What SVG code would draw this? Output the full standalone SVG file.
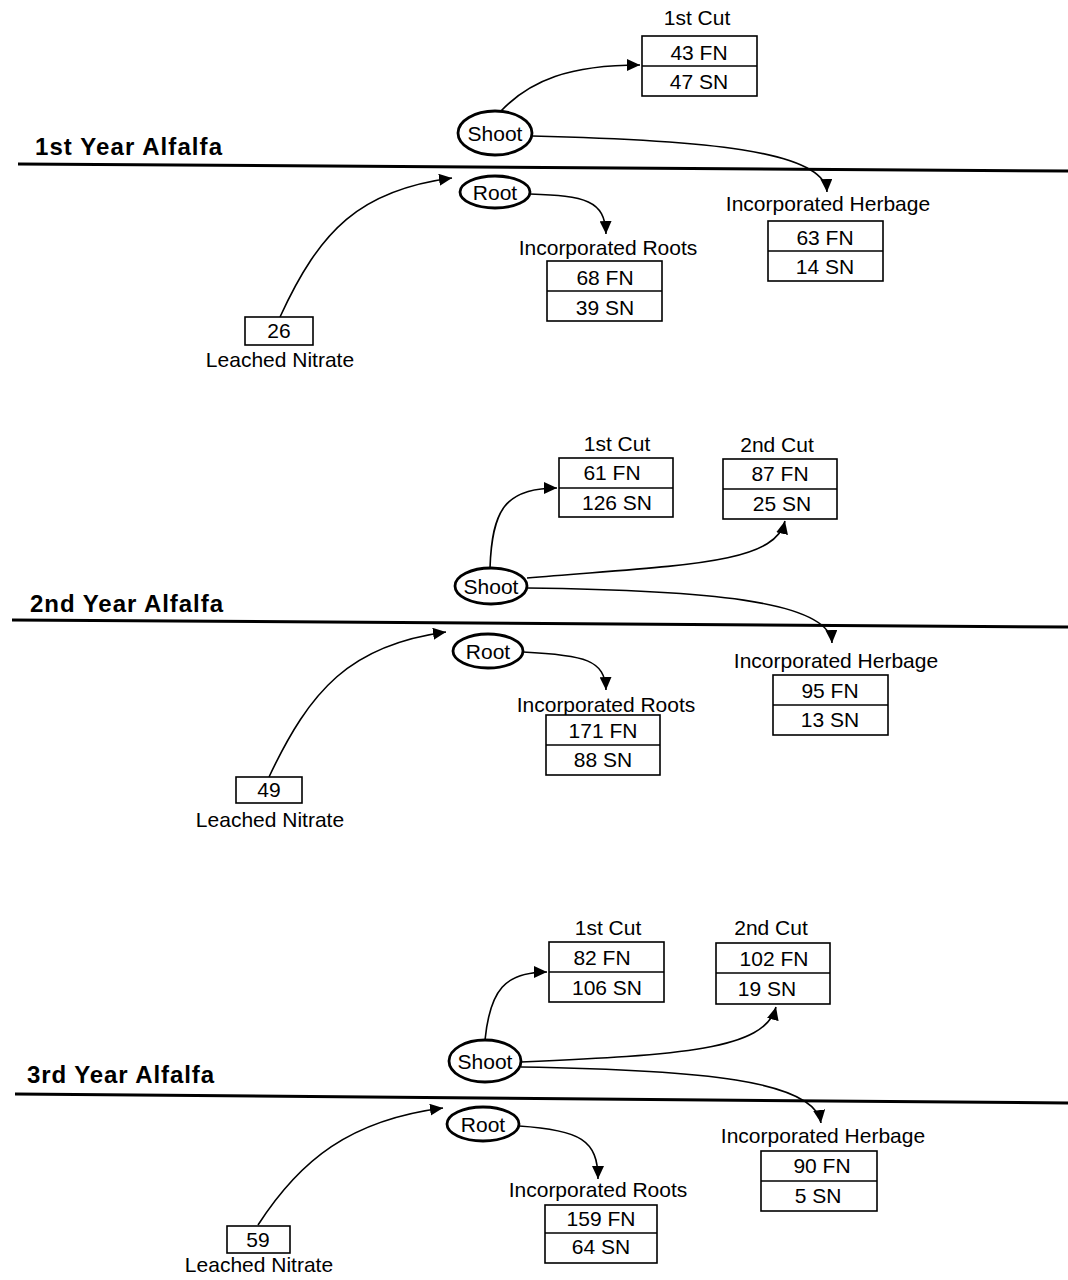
<svg xmlns="http://www.w3.org/2000/svg" width="1068" height="1280" viewBox="0 0 1068 1280">
<style>
text{font-family:"Liberation Sans",Arial,sans-serif;font-size:21px;fill:#000}
.t{font-weight:bold;font-size:24px}
.c{text-anchor:middle}
.box{fill:#fff;stroke:#000;stroke-width:1.6}
.div{stroke:#000;stroke-width:1.6}
.ell{fill:#fff;stroke:#000;stroke-width:2.8}
.gl{stroke:#000;stroke-width:3}
.cn{fill:none;stroke:#000;stroke-width:1.6;marker-end:url(#ah)}
</style>
<defs>
<marker id="ah" viewBox="0 0 13 12" refX="13" refY="6" markerWidth="13" markerHeight="12" markerUnits="userSpaceOnUse" orient="auto"><path d="M0,0 L13,6 L0,12 z" fill="#000"/></marker>
</defs>
<rect width="1068" height="1280" fill="#fff"/>

<g id="ground">
<line class="gl" x1="18" y1="164" x2="1068" y2="171"/>
<line class="gl" x1="12" y1="620" x2="1068" y2="627"/>
<line class="gl" x1="15" y1="1094" x2="1068" y2="1103"/>
</g>

<g id="titles">
<text class="t" x="35" y="155" textLength="187">1st Year Alfalfa</text>
<text class="t" x="30" y="612" textLength="193">2nd Year Alfalfa</text>
<text class="t" x="27" y="1083" textLength="187">3rd Year Alfalfa</text>
</g>

<g id="connectors">
<path class="cn" d="M500,112 C530,80 570,65 640,65"/>
<path class="cn" d="M532,136 C700,140 825,150 827,192"/>
<path class="cn" d="M530,194 C585,196 605,200 606,234"/>
<path class="cn" d="M280,317 C320,230 360,190 452,178"/>

<path class="cn" d="M490,568 C492,510 505,488 557,488"/>
<path class="cn" d="M527,578 C680,565 775,565 785,521"/>
<path class="cn" d="M527,588 C700,590 830,600 832,643"/>
<path class="cn" d="M523,652 C585,655 605,660 606,690"/>
<path class="cn" d="M269,777 C310,690 350,645 446,632"/>

<path class="cn" d="M485,1040 C490,990 505,972 547,972"/>
<path class="cn" d="M521,1062 C680,1055 765,1050 776,1007"/>
<path class="cn" d="M521,1067 C700,1070 815,1080 821,1123"/>
<path class="cn" d="M519,1126 C580,1130 598,1140 598,1179"/>
<path class="cn" d="M258,1225 C300,1160 350,1120 443,1108"/>
</g>

<!-- Panel 1 -->
<g id="p1-shoot"><ellipse class="ell" cx="495" cy="133" rx="37" ry="22"/><text class="c" x="495" y="141">Shoot</text></g>
<g id="p1-root"><ellipse class="ell" cx="495" cy="192" rx="35" ry="16"/><text class="c" x="495" y="200">Root</text></g>
<g id="p1-cut1"><text class="c" x="697" y="25">1st Cut</text><rect class="box" x="642" y="36" width="115" height="60"/><line class="div" x1="642" y1="66" x2="757" y2="66"/><text class="c" x="699" y="60">43 FN</text><text class="c" x="699" y="89">47 SN</text></g>
<g id="p1-herb"><text class="c" x="828" y="211">Incorporated Herbage</text><rect class="box" x="768" y="221" width="115" height="60"/><line class="div" x1="768" y1="251" x2="883" y2="251"/><text class="c" x="825" y="245">63 FN</text><text class="c" x="825" y="274">14 SN</text></g>
<g id="p1-roots"><text class="c" x="608" y="255">Incorporated Roots</text><rect class="box" x="547" y="261" width="115" height="60"/><line class="div" x1="547" y1="291" x2="662" y2="291"/><text class="c" x="605" y="285">68 FN</text><text class="c" x="605" y="315">39 SN</text></g>
<g id="p1-leach"><rect class="box" x="245" y="317" width="68" height="28"/><text class="c" x="279" y="338">26</text><text class="c" x="280" y="367">Leached Nitrate</text></g>

<!-- Panel 2 -->
<g id="p2-shoot"><ellipse class="ell" cx="491" cy="586" rx="36" ry="18"/><text class="c" x="491" y="594">Shoot</text></g>
<g id="p2-root"><ellipse class="ell" cx="488" cy="651" rx="35" ry="17"/><text class="c" x="488" y="659">Root</text></g>
<g id="p2-cut1"><text class="c" x="617" y="451">1st Cut</text><rect class="box" x="559" y="458" width="114" height="59"/><line class="div" x1="559" y1="488" x2="673" y2="488"/><text class="c" x="612" y="480">61 FN</text><text class="c" x="617" y="510">126 SN</text></g>
<g id="p2-cut2"><text class="c" x="777" y="452">2nd Cut</text><rect class="box" x="723" y="459" width="114" height="60"/><line class="div" x1="723" y1="489" x2="837" y2="489"/><text class="c" x="780" y="481">87 FN</text><text class="c" x="782" y="511">25 SN</text></g>
<g id="p2-herb"><text class="c" x="836" y="668">Incorporated Herbage</text><rect class="box" x="773" y="675" width="115" height="60"/><line class="div" x1="773" y1="705" x2="888" y2="705"/><text class="c" x="830" y="698">95 FN</text><text class="c" x="830" y="727">13 SN</text></g>
<g id="p2-roots"><text class="c" x="606" y="712">Incorporated Roots</text><rect class="box" x="546" y="715" width="114" height="60"/><line class="div" x1="546" y1="745" x2="660" y2="745"/><text class="c" x="603" y="738">171 FN</text><text class="c" x="603" y="767">88 SN</text></g>
<g id="p2-leach"><rect class="box" x="236" y="777" width="66" height="26"/><text class="c" x="269" y="797">49</text><text class="c" x="270" y="827">Leached Nitrate</text></g>

<!-- Panel 3 -->
<g id="p3-shoot"><ellipse class="ell" cx="485" cy="1061" rx="36" ry="21"/><text class="c" x="485" y="1069">Shoot</text></g>
<g id="p3-root"><ellipse class="ell" cx="483" cy="1124" rx="36" ry="17"/><text class="c" x="483" y="1132">Root</text></g>
<g id="p3-cut1"><text class="c" x="608" y="935">1st Cut</text><rect class="box" x="549" y="942" width="115" height="60"/><line class="div" x1="549" y1="972" x2="664" y2="972"/><text class="c" x="602" y="965">82 FN</text><text class="c" x="607" y="995">106 SN</text></g>
<g id="p3-cut2"><text class="c" x="771" y="935">2nd Cut</text><rect class="box" x="716" y="943" width="114" height="61"/><line class="div" x1="716" y1="973" x2="830" y2="973"/><text class="c" x="774" y="966">102 FN</text><text class="c" x="767" y="996">19 SN</text></g>
<g id="p3-herb"><text class="c" x="823" y="1143">Incorporated Herbage</text><rect class="box" x="761" y="1151" width="116" height="60"/><line class="div" x1="761" y1="1181" x2="877" y2="1181"/><text class="c" x="822" y="1173">90 FN</text><text class="c" x="818" y="1203">5 SN</text></g>
<g id="p3-roots"><text class="c" x="598" y="1197">Incorporated Roots</text><rect class="box" x="545" y="1205" width="112" height="58"/><line class="div" x1="545" y1="1233" x2="657" y2="1233"/><text class="c" x="601" y="1226">159 FN</text><text class="c" x="601" y="1254">64 SN</text></g>
<g id="p3-leach"><rect class="box" x="227" y="1226" width="63" height="27"/><text class="c" x="258" y="1247">59</text><text class="c" x="259" y="1272">Leached Nitrate</text></g>
</svg>
